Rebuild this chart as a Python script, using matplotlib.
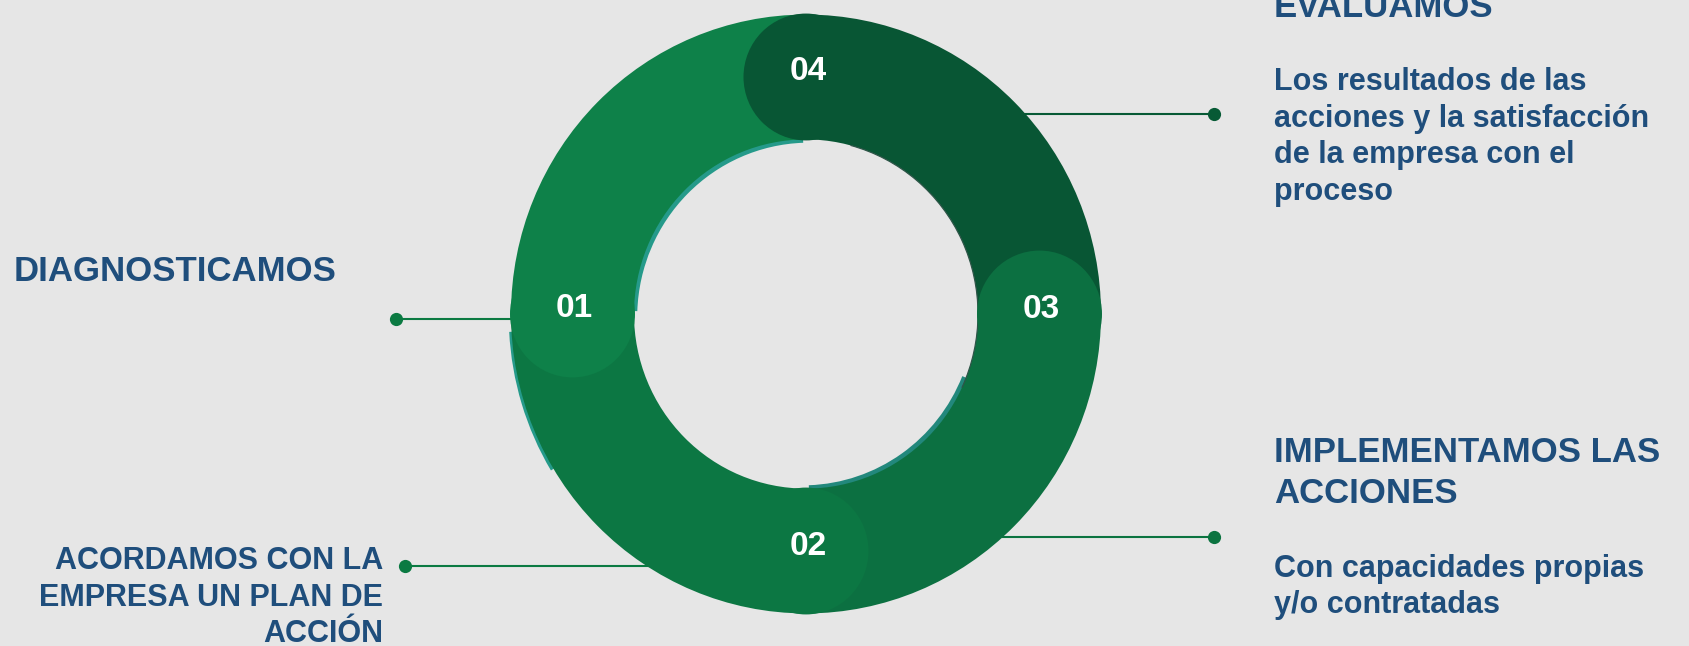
import numpy as np
import matplotlib
matplotlib.use("Agg")
import matplotlib.pyplot as plt
from matplotlib.patches import Wedge, Circle, Arc
from matplotlib.transforms import Affine2D

# ---------------- data ----------------
steps = ["01", "02", "03", "04"]
step_shares = [1, 1, 1, 1]                      # equal parts of the cycle
step_colors = ["#0E8149", "#0C7743", "#0C7041", "#085634"]
titles = ["DIAGNOSTICAMOS",
          "ACORDAMOS CON LA\nEMPRESA UN PLAN DE\nACCIÓN",
          "IMPLEMENTAMOS LAS\nACCIONES",
          "EVALUAMOS"]
descriptions = ["",
                "",
                "Con capacidades propias\ny/o contratadas",
                "Los resultados de las\nacciones y la satisfacción\nde la empresa con el\nproceso"]
line_colors = ["#0B7A42", "#0B7A42", "#0B7340", "#075A35"]

# ---------------- figure ----------------
W, H = 1689, 646
BG = "#E6E6E6"
TXT = "#1F4E7C"
FONT = "Liberation Sans"

fig = plt.figure(figsize=(W / 100, H / 100), dpi=100)
fig.patch.set_facecolor(BG)
ax = fig.add_axes([0, 0, 1, 1])
ax.set_xlim(0, W)
ax.set_ylim(H, 0)
ax.axis("off")

cx, cy = 806, 314
R_out, R_in = 295, 172
sy = 1.015
rm = (R_out + R_in) / 2
cap_r = 62.5
ring_tf = Affine2D().translate(-cx, -cy).scale(1, sy).translate(cx, cy) + ax.transData

# cap angles (screen degrees, counterclockwise) from cumulative shares
total = sum(step_shares)
cum = np.concatenate([[0], np.cumsum(step_shares)[:-1]])
cap_angles = 180 + 360 * cum / total
seg_span = 360 * np.array(step_shares) / total


def wedge(center, r, a0, a1, width, color, z):
    # screen angles a0..a1 -> data angles (y axis inverted)
    w = Wedge(center, r, -a1, -a0, width=width, facecolor=color,
              edgecolor="none", transform=ring_tf, zorder=z)
    ax.add_patch(w)


# teal slivers under the ring
TEAL = "#259A8A"
wedge((cx + 3.2, cy + 3.2), R_in + 30, 92, 178, 30, TEAL, 1)
wedge((cx - 3.2, cy - 3.2), R_in + 30, -88, -22, 30, "#22887C", 1)
wedge((cx - 2.2, cy + 2.2), R_out, 183, 211, 30, TEAL, 1)

# ring bodies
for i, a in enumerate(cap_angles):
    wedge((cx, cy), R_out, a - seg_span[i], a, R_out - R_in, step_colors[i], 2)

# faint dark edge along the inner side of the last segment
ax.add_patch(Arc((cx, cy), 2 * R_in, 2 * R_in, theta1=-75, theta2=25,
                 color="#2E5548", lw=0.9, transform=ring_tf, zorder=2.5))

# caps + numbers
for i, a in enumerate(cap_angles):
    t = np.deg2rad(a)
    px, py = cx + rm * np.cos(t), cy - rm * np.sin(t)
    ax.add_patch(Circle((px, py), cap_r, facecolor=step_colors[i],
                        edgecolor="none", transform=ring_tf, zorder=3))
    py_s = cy + (py - cy) * sy
    ax.text(px + 2, py_s + 3.5, steps[i], color="white", fontsize=24,
            fontweight="bold", family=FONT, ha="center", va="baseline", zorder=4)


# ---------------- connectors ----------------
def ring_x(y, side):
    dy = (y - cy) / sy
    r = R_out - 12
    return cx + side * np.sqrt(max(r * r - dy * dy, 0))


connectors = [(396, 319, -1), (405, 566, -1), (1214, 537, 1), (1214, 114, 1)]
for (xd, yd, side), col in zip(connectors, line_colors):
    ax.plot([xd, ring_x(yd, side)], [yd, yd], color=col, lw=1.5,
            solid_capstyle="butt", zorder=0.5)
    ax.plot([xd], [yd], "o", color=col, ms=9.5, mec="none", zorder=0.6)


# ---------------- texts ----------------
def put_lines(x, y0, text, dy, size, ha):
    for k, line in enumerate(text.split("\n")):
        ax.text(x, y0 + k * dy, line, color=TXT, fontsize=size, fontweight="bold",
                family=FONT, ha=ha, va="baseline", zorder=5)


put_lines(14, 281, titles[0], 0, 25, "left")
put_lines(383, 569, titles[1], 36.5, 22, "right")
put_lines(1274, 462, titles[2], 41, 25, "left")
put_lines(1274, 577, descriptions[2], 36, 22, "left")
put_lines(1274, 17, titles[3], 0, 25, "left")
put_lines(1274, 90, descriptions[3], 36.7, 22, "left")

fig.savefig("out.png", dpi=100, facecolor=BG)
